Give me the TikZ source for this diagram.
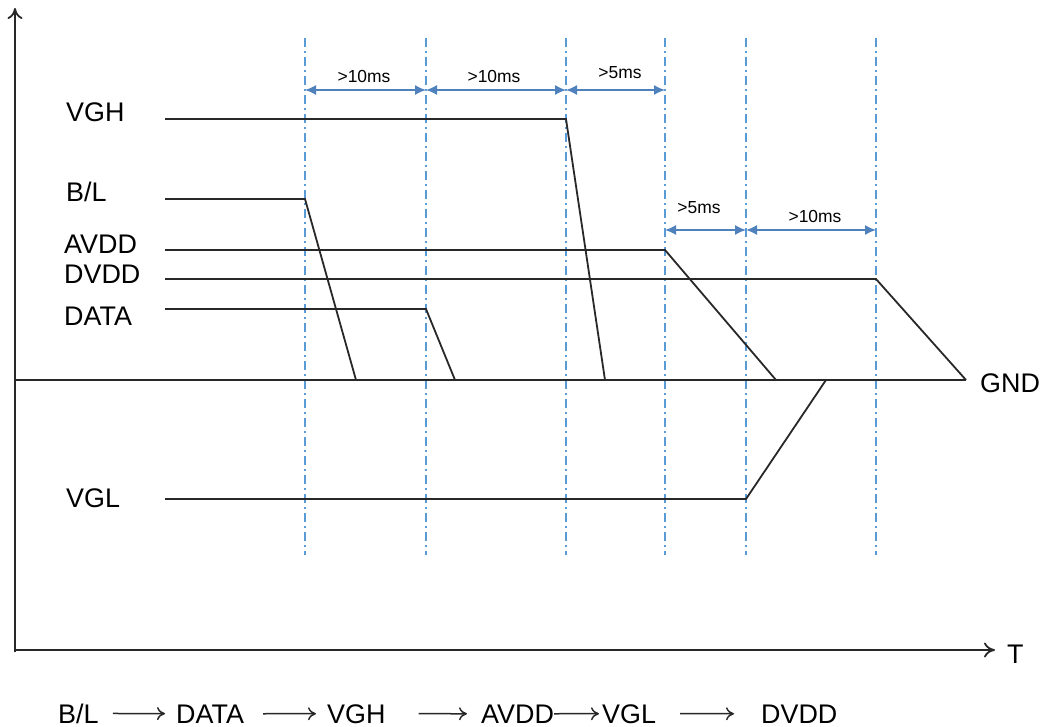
\documentclass[tikz,border=0pt]{standalone}
\usepackage{fontspec}
\setmainfont{Liberation Sans}
\usetikzlibrary{arrows.meta,calc}
\definecolor{gridblue}{RGB}{91,155,213}
\definecolor{dimblue}{RGB}{79,129,189}
\definecolor{ink}{RGB}{40,40,40}
\begin{document}
\begin{tikzpicture}[x=1bp,y=-1bp,
  sig/.style={line width=1.8bp, ink},
  axis/.style={line width=1.8bp, ink, -{To[length=11bp,width=15bp]}},
  gridline/.style={gridblue, line width=1.2bp, dash pattern=on 9bp off 4bp on 2bp off 4bp},
  dimarrow/.style={dimblue, line width=1.5bp, {Latex[length=11bp,width=10bp]}-{Latex[length=11bp,width=10bp]}},
  lbl/.style={font=\fontsize{27}{32}\selectfont, anchor=base west, inner sep=0pt, text=black},
  dlbl/.style={font=\fontsize{17.5}{20}\selectfont, inner sep=0pt, text=black},
  seqarrow/.style={line width=1.5bp, ink, -{To[length=8bp,width=13bp]}},
]
\useasboundingbox (0,0) rectangle (1042,727);

% axes
\coordinate (origin) at (15,650);
\coordinate (ytop) at (15,8);
\coordinate (xend) at (995,650);
\draw[axis] (15,652) -- (ytop);
\draw[axis] (origin) -- (xend);
\node[lbl] (T) at (1007,663) {T};

% vertical grid lines
\foreach \n/\x in {g1/305,g2/426,g3/566,g4/665,g5/746,g6/876}{
  \coordinate (\n top) at (\x,38);
  \coordinate (\n bot) at (\x,555);
  \draw[gridline] (\n top) -- (\n bot);
}

% GND
\coordinate (gnd0) at (15,380);
\coordinate (gnd1) at (966,380);
\draw[sig] (gnd0) -- (gnd1);
\node[lbl] (GND) at (980,392) {GND};

% signals
\coordinate (vgh0) at (165,119); \coordinate (vgh1) at (566,119); \coordinate (vgh2) at (605,380);
\draw[sig] (vgh0) -- (vgh1) -- (vgh2);
\coordinate (bl0) at (165,199); \coordinate (bl1) at (305,199); \coordinate (bl2) at (356,380);
\draw[sig] (bl0) -- (bl1) -- (bl2);
\coordinate (av0) at (165,250); \coordinate (av1) at (665,250); \coordinate (av2) at (776,380);
\draw[sig] (av0) -- (av1) -- (av2);
\coordinate (dv0) at (165,279); \coordinate (dv1) at (876,279); \coordinate (dv2) at (966,380);
\draw[sig] (dv0) -- (dv1) -- (dv2);
\coordinate (da0) at (165,309); \coordinate (da1) at (426,309); \coordinate (da2) at (455,380);
\draw[sig] (da0) -- (da1) -- (da2);
\coordinate (vl0) at (165,499); \coordinate (vl1) at (746,499); \coordinate (vl2) at (826,380);
\draw[sig] (vl0) -- (vl1) -- (vl2);

% signal labels
\node[lbl] (lVGH) at (66,122) {VGH};
\node[lbl] (lBL) at (66,202) {B/L};
\node[lbl] (lAVDD) at (64,253) {AVDD};
\node[lbl] (lDVDD) at (64,283) {DVDD};
\node[lbl] (lDATA) at (64,325) {DATA};
\node[lbl] (lVGL) at (66,507) {VGL};

% timing dimensions
\coordinate (d1a) at (305,90); \coordinate (d1b) at (426,90);
\coordinate (d2a) at (426,90); \coordinate (d2b) at (566,90);
\coordinate (d3a) at (566,90); \coordinate (d3b) at (665,90);
\coordinate (d4a) at (665,230); \coordinate (d4b) at (746,230);
\coordinate (d5a) at (746,230); \coordinate (d5b) at (876,230);
\draw[dimarrow] (d1a) -- (d1b);
\draw[dimarrow] (d2a) -- (d2b);
\draw[dimarrow] (d3a) -- (d3b);
\draw[dimarrow] (d4a) -- (d4b);
\draw[dimarrow] (d5a) -- (d5b);
\node[dlbl] (t1) at (364,76) {>10ms};
\node[dlbl] (t2) at (494,76) {>10ms};
\node[dlbl] (t3) at (620,73) {>5ms};
\node[dlbl] (t4) at (699,208) {>5ms};
\node[dlbl] (t5) at (815,216) {>10ms};

% sequence
\node[lbl] (sBL) at (58,723) {B/L};
\node[lbl] (sDATA) at (176,723) {DATA};
\node[lbl] (sVGH) at (327,723) {VGH};
\node[lbl] (sAVDD) at (481,723) {AVDD};
\node[lbl] (sVGL) at (602,723) {VGL};
\node[lbl] (sDVDD) at (761,723) {DVDD};
\draw[seqarrow, shorten <=14bp, shorten >=11bp] (sBL) -- (sDATA);
\draw[seqarrow, shorten <=19bp, shorten >=11bp] (sDATA) -- (sVGH);
\draw[seqarrow, shorten <=33bp, shorten >=14bp] (sVGH) -- (sAVDD);
\draw[seqarrow, shorten <=0bp, shorten >=3bp] (sAVDD) -- (sVGL);
\draw[seqarrow, shorten <=24bp, shorten >=27bp] (sVGL) -- (sDVDD);
\end{tikzpicture}
\end{document}
